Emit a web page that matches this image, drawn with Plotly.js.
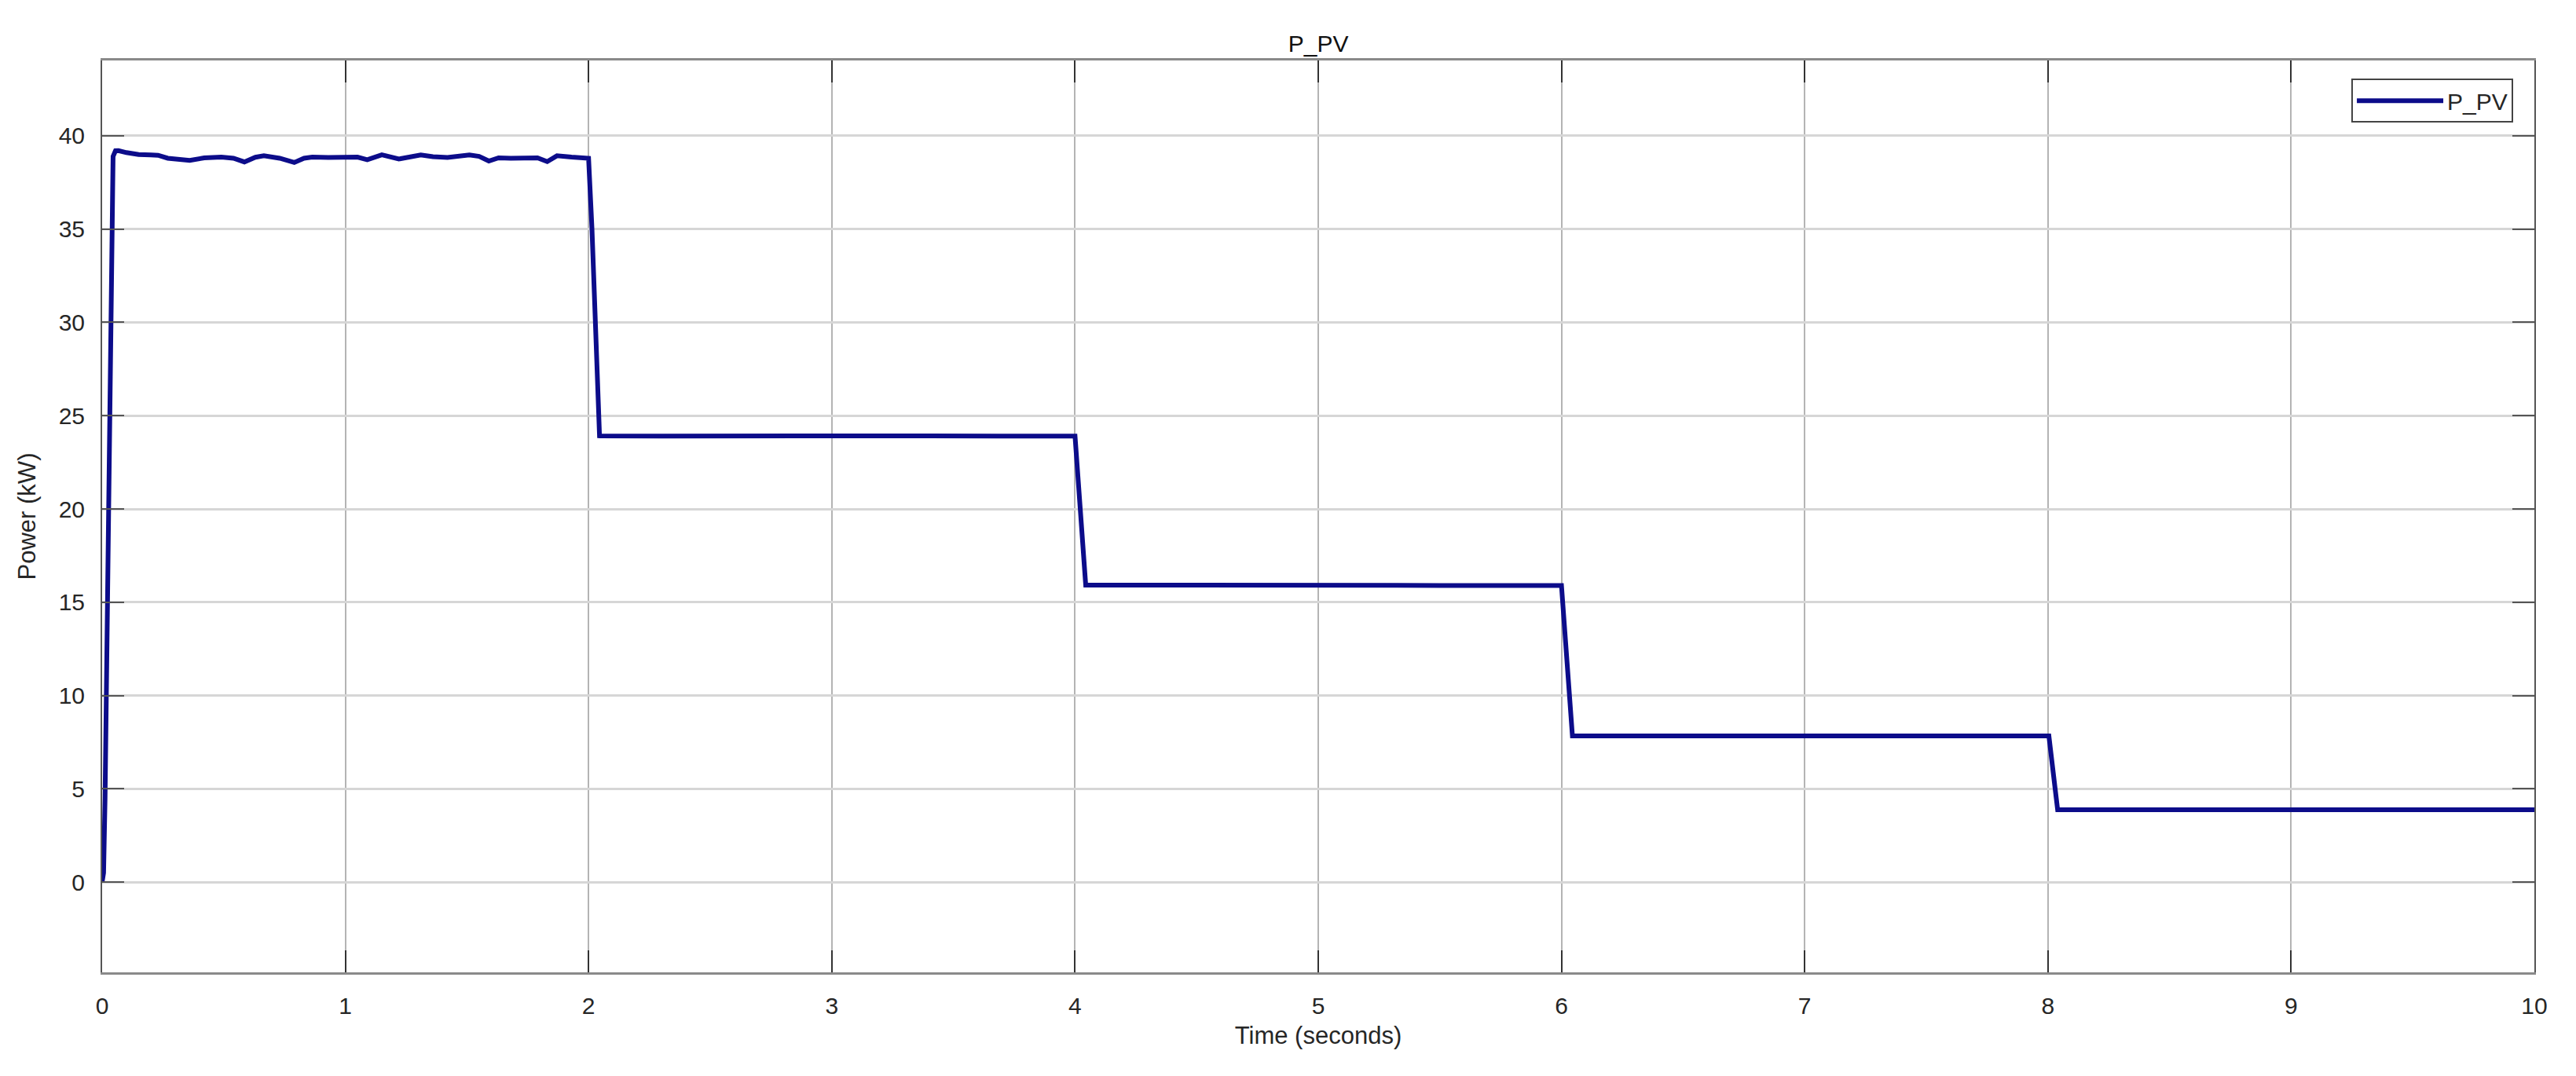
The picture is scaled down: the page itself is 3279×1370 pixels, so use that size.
<!DOCTYPE html>
<html>
<head>
<meta charset="utf-8">
<script src="https://cdn.plot.ly/plotly-3.0.1.min.js"></script>
<style>html,body{margin:0;padding:0;background:#fff;}#chart{width:3279px;height:1370px;}</style>
</head>
<body>
<div id="chart"></div>
<script>
// Time (s) and PV power (kW)
const timeS = [0, 0.006, 0.012, 0.025, 0.038, 0.045, 0.055, 0.067, 0.1, 0.15, 0.2, 0.23, 0.27, 0.36, 0.42, 0.49, 0.54, 0.585, 0.63, 0.665, 0.73, 0.79, 0.83, 0.864, 0.93, 0.995, 1.05, 1.09, 1.15, 1.22, 1.31, 1.36, 1.42, 1.51, 1.55, 1.59, 1.63, 1.68, 1.75, 1.79, 1.83, 1.87, 1.93, 1.985, 2.0, 2.014, 2.045, 2.3, 2.7, 3.0, 3.4, 3.8, 4.0, 4.044, 4.5, 5.0, 5.5, 6.0, 6.045, 6.5, 7.0, 7.5, 8.004, 8.04, 8.5, 9.0, 9.5, 10.0];
const powerKW = [0, 0.5, 4.5, 19, 35, 38.9, 39.2, 39.21, 39.1, 39.0, 38.98, 38.96, 38.8, 38.68, 38.82, 38.86, 38.8, 38.6, 38.85, 38.93, 38.8, 38.57, 38.8, 38.86, 38.84, 38.88, 38.86, 38.72, 38.98, 38.76, 38.98, 38.88, 38.84, 38.98, 38.9, 38.65, 38.82, 38.8, 38.8, 38.82, 38.62, 38.93, 38.86, 38.8, 38.8, 35, 23.92, 23.9, 23.93, 23.9, 23.92, 23.9, 23.9, 15.92, 15.9, 15.9, 15.9, 15.9, 7.83, 7.83, 7.83, 7.83, 7.83, 3.87, 3.86, 3.87, 3.87, 3.87];
const xTicks = [0,1,2,3,4,5,6,7,8,9,10];
const yTicks = [0,5,10,15,20,25,30,35,40];

const fontFam = 'Liberation Sans, Arial, Helvetica, sans-serif';
const txt = '#262626';

const trace = {
  x: timeS, y: powerKW, type: 'scatter', mode: 'lines', name: 'P_PV',
  line: {color: '#0c0c8a', width: 6}
};

const layout = {
  width: 3279, height: 1370, autosize: false,
  margin: {l: 130, r: 53, t: 77, b: 132},
  paper_bgcolor: '#ffffff', plot_bgcolor: '#ffffff',
  font: {family: fontFam, size: 30, color: txt},
  title: {text: 'P_PV', font: {size: 30, color: '#111'}, x: 0.5118, xanchor: 'center', yref: 'container', y: 1 - 55/1370, yanchor: 'middle'},
  xaxis: {
    range: [0, 10], tickvals: xTicks, ticktext: xTicks.map(String),
    showgrid: true, gridcolor: '#b4b4b4', gridwidth: 2,
    zeroline: false, showline: true, linecolor: '#8a8a8a', linewidth: 3, mirror: 'allticks',
    ticks: 'inside', ticklen: 28, tickwidth: 2, tickcolor: '#333',
    ticklabelstandoff: 14,
    tickfont: {size: 30, color: txt},
    title: {text: 'Time (seconds)', font: {size: 31, color: txt}, standoff: 12}
  },
  yaxis: {
    range: [-4.84, 44.04], tickvals: yTicks, ticktext: yTicks.map(String),
    showgrid: true, gridcolor: '#d6d6d6', gridwidth: 3,
    zeroline: false, showline: true, linecolor: '#555', linewidth: 2, mirror: 'allticks',
    ticks: 'inside', ticklen: 28, tickwidth: 2, tickcolor: '#555',
    ticklabelstandoff: 14,
    tickfont: {size: 30, color: txt},
    title: {text: 'Power (kW)', font: {size: 31, color: txt}, standoff: 20}
  },
  showlegend: true,
  legend: {
    x: 0.9913, xanchor: 'right', y: 0.980, yanchor: 'top',
    bgcolor: '#ffffff', bordercolor: '#444', borderwidth: 2,
    font: {size: 30, color: txt}, itemwidth: 110
  }
};

Plotly.newPlot('chart', [trace], layout, {staticPlot: true, displayModeBar: false});
</script>
</body>
</html>
